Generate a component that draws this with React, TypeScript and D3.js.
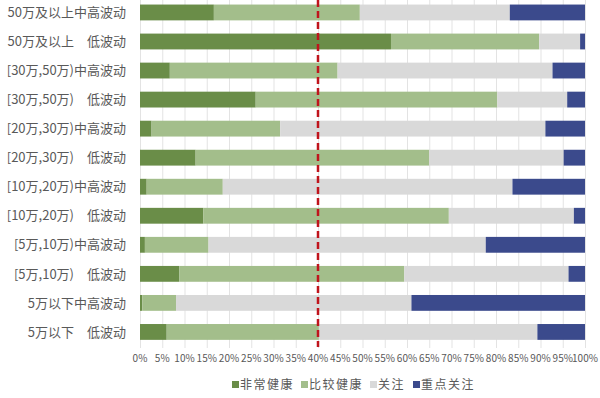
import React, { useEffect, useRef } from "react";
import * as d3 from "d3";

const categories = [
  "50万及以上中高波动",
  "50万及以上\u3000低波动",
  "[30万,50万)中高波动",
  "[30万,50万)\u3000低波动",
  "[20万,30万)中高波动",
  "[20万,30万)\u3000低波动",
  "[10万,20万)中高波动",
  "[10万,20万)\u3000低波动",
  "[5万,10万)中高波动",
  "[5万,10万)\u3000低波动",
  "5万以下中高波动",
  "5万以下\u3000低波动",
];

const seriesNames = ["非常健康", "比较健康", "关注", "重点关注"];
const seriesColors = ["#6a8d48", "#a3be8b", "#d9d9d9", "#3b4a8c"];

const veryHealthy = [16.6, 56.4, 6.7, 26.0, 2.6, 12.5, 1.5, 14.2, 1.1, 8.8, 0.5, 6.0];
const fairlyHealthy = [32.8, 33.3, 37.7, 54.3, 28.9, 52.5, 17.1, 55.2, 14.3, 50.6, 7.6, 34.2];
const watch = [33.7, 9.2, 48.3, 15.7, 59.6, 30.2, 65.1, 28.1, 62.3, 36.9, 52.9, 49.1];
const keyWatch = [16.9, 1.1, 7.3, 4.0, 8.9, 4.8, 16.3, 2.5, 22.3, 3.7, 39.0, 10.7];

const xTicks = d3.range(0, 101, 5);
const refLine = 40;

const App = () => {
  const ref = useRef<HTMLDivElement>(null);

  useEffect(() => {
    const width = 600;
    const height = 398;
    const font = "'Noto Sans CJK SC', 'Noto Sans', sans-serif";

    const rows = categories.map((c, i) => ({
      cat: c,
      [seriesNames[0]]: veryHealthy[i],
      [seriesNames[1]]: fairlyHealthy[i],
      [seriesNames[2]]: watch[i],
      [seriesNames[3]]: keyWatch[i],
    }));

    const stacked = d3.stack<any>().keys(seriesNames)(rows);

    const x = d3.scaleLinear().domain([0, 100]).range([140, 585]);
    const y = d3.scaleBand().domain(categories).range([-3.3, 347.7]).paddingInner(0.455).paddingOuter(0.27);

    const svg = d3.create("svg")
      .attr("width", width)
      .attr("height", height)
      .style("position", "absolute")
      .style("left", "0px")
      .style("top", "0px")
      .style("font-family", font);

    svg.append("rect").attr("width", width).attr("height", height).attr("fill", "#fff");

    // grid
    svg.append("g")
      .selectAll("line")
      .data(xTicks)
      .join("line")
      .attr("x1", d => x(d) + 0.5)
      .attr("x2", d => x(d) + 0.5)
      .attr("y1", 0)
      .attr("y2", 348)
      .attr("stroke", "#e3e3e3")
      .attr("stroke-width", 1);

    svg.append("g")
      .selectAll("g")
      .data(stacked)
      .join("g")
      .attr("fill", (d, i) => seriesColors[i])
      .selectAll("rect")
      .data(d => d)
      .join("rect")
      .attr("x", d => x(d[0]))
      .attr("width", d => Math.max(0, x(Math.min(d[1], 100)) - x(d[0])))
      .attr("y", d => y(d.data.cat)!)
      .attr("height", y.bandwidth());

    // category labels
    svg.append("g")
      .selectAll("text")
      .data(categories)
      .join("text")
      .attr("x", 126)
      .attr("y", d => y(d)! + y.bandwidth() / 2)
      .attr("dy", "0.36em")
      .attr("text-anchor", "end")
      .attr("font-size", 13)
      .attr("fill", "#595959")
      .style("white-space", "pre")
      .text(d => d);

    // x tick labels
    svg.append("g")
      .selectAll("text")
      .data(xTicks)
      .join("text")
      .attr("x", d => x(d))
      .attr("y", 362)
      .attr("text-anchor", "middle")
      .attr("font-size", 10)
      .attr("fill", "#595959")
      .text(d => d + "%");

    // reference line
    svg.append("line")
      .attr("x1", x(refLine))
      .attr("x2", x(refLine))
      .attr("y1", 0)
      .attr("y2", 347)
      .attr("stroke", "#c0141c")
      .attr("stroke-width", 2.5)
      .attr("stroke-dasharray", "7,4");

    // legend
    const legendX = [232, 301, 370, 413];
    const legend = svg.append("g")
      .selectAll("g")
      .data(seriesNames)
      .join("g")
      .attr("transform", (d, i) => `translate(${legendX[i]},385)`);
    legend.append("rect")
      .attr("x", 0)
      .attr("y", -4)
      .attr("width", 7)
      .attr("height", 7)
      .attr("fill", (d, i) => seriesColors[i]);
    legend.append("text")
      .attr("x", 8)
      .attr("y", 0)
      .attr("dy", "0.36em")
      .attr("font-size", 12)
      .attr("letter-spacing", 1.5)
      .attr("fill", "#595959")
      .text(d => d);

    ref.current!.innerHTML = "";
    ref.current!.appendChild(svg.node()!);
  }, []);

  return <div ref={ref} />;
};

export default App;
